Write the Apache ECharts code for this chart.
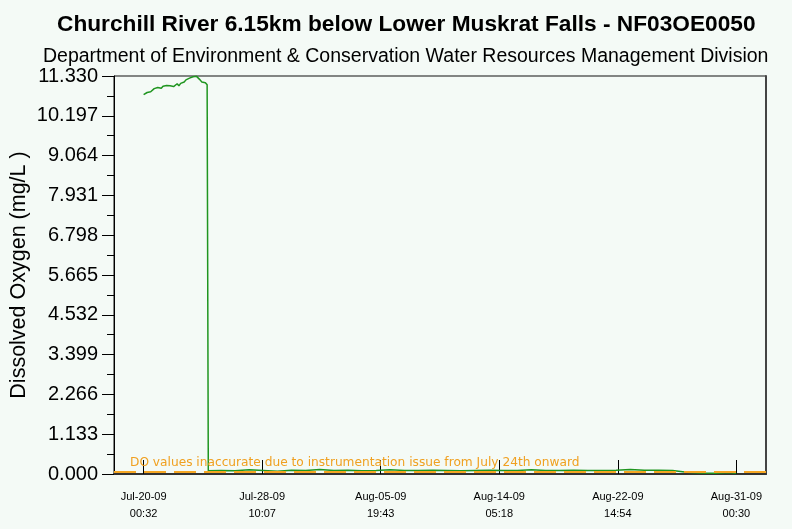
<!DOCTYPE html>
<html>
<head>
<meta charset="utf-8">
<script src="https://cdn.jsdelivr.net/npm/echarts@6/dist/echarts.min.js"></script>
<style>
html,body{margin:0;padding:0;background:#f4faf6;}
#c{width:792px;height:529px;}
</style>
</head>
<body>
<div id="c"></div>
<script>
// ---- data ----
var titleText = 'Churchill River 6.15km below Lower Muskrat Falls - NF03OE0050';
var subtitleText = 'Department of Environment & Conservation Water Resources Management Division';
var yAxisName = 'Dissolved Oxygen (mg/L )';
var noteText = 'DO values inaccurate due to instrumentation issue from July 24th onward';

var yMin = 0, yMax = 11.33, yStep = 1.133;
var noteLevel = 0.05;

var xTickTimes = ['2009-07-20 00:32','2009-07-28 10:07','2009-08-05 19:43','2009-08-14 05:18','2009-08-22 14:54','2009-08-31 00:30'];
var xTickLabels = ['Jul-20-09\n00:32','Jul-28-09\n10:07','Aug-05-09\n19:43','Aug-14-09\n05:18','Aug-22-09\n14:54','Aug-31-09\n00:30'];

// high readings, every 3 hours from Jul-20 00:30
var highTimes = ['2009-07-20 00:30','2009-07-20 03:30','2009-07-20 06:30','2009-07-20 09:30','2009-07-20 12:30','2009-07-20 15:30','2009-07-20 18:30','2009-07-20 21:30',
 '2009-07-21 00:30','2009-07-21 03:30','2009-07-21 06:30','2009-07-21 09:30','2009-07-21 12:30','2009-07-21 15:30','2009-07-21 18:30','2009-07-21 21:30',
 '2009-07-22 00:30','2009-07-22 03:30','2009-07-22 06:30','2009-07-22 09:30','2009-07-22 12:30','2009-07-22 15:30','2009-07-22 18:30','2009-07-22 21:30',
 '2009-07-23 00:30','2009-07-23 03:30','2009-07-23 06:30','2009-07-23 09:30','2009-07-23 12:30','2009-07-23 15:30','2009-07-23 18:30','2009-07-23 21:30',
 '2009-07-24 00:30','2009-07-24 03:30','2009-07-24 06:30','2009-07-24 09:30','2009-07-24 12:30'];
var highValues = [10.80,10.82,10.86,10.90,10.88,10.93,10.97,10.94,11.00,11.03,10.98,11.04,11.00,11.06,11.01,11.05,11.09,11.03,11.07,11.11,11.05,11.12,11.09,11.16,11.22,11.19,11.27,11.25,11.31,11.33,11.32,11.29,11.22,11.16,11.12,11.14,11.08];

// low readings after the drop, daily
var lowTimes = ['2009-07-24 14:30','2009-07-25 12:00','2009-07-26 12:00','2009-07-27 12:00','2009-07-28 12:00','2009-07-29 12:00','2009-07-30 12:00','2009-07-31 12:00',
 '2009-08-01 12:00','2009-08-02 12:00','2009-08-03 12:00','2009-08-04 12:00','2009-08-05 12:00','2009-08-06 12:00','2009-08-07 12:00','2009-08-08 12:00',
 '2009-08-09 12:00','2009-08-10 12:00','2009-08-11 12:00','2009-08-12 12:00','2009-08-13 12:00','2009-08-14 12:00','2009-08-15 12:00','2009-08-16 12:00',
 '2009-08-17 12:00','2009-08-18 12:00','2009-08-19 12:00','2009-08-20 12:00','2009-08-21 12:00','2009-08-22 12:00','2009-08-23 12:00','2009-08-24 12:00',
 '2009-08-25 12:00','2009-08-26 12:00','2009-08-27 12:00','2009-08-28 12:00','2009-08-29 12:00','2009-08-30 12:00','2009-08-31 00:30'];
var lowValues = [0.09,0.10,0.09,0.12,0.10,0.08,0.11,0.10,0.13,0.10,0.11,0.09,0.10,0.12,0.10,0.10,0.11,0.10,0.09,0.10,0.11,0.10,0.10,0.12,0.10,0.10,0.11,0.10,0.10,0.11,0.13,0.11,0.11,0.10,0.05,0.03,0.02,0.04,0.02];

// ---- build ----
function ts(s){ return new Date(s.replace(' ','T')+':00Z').getTime(); }
var tickTs = xTickTimes.map(ts);
var tickStep = (tickTs[tickTs.length-1]-tickTs[0])/(tickTs.length-1);
var xMin = tickTs[0]-0.25*tickStep, xMax = tickTs[tickTs.length-1]+0.25*tickStep;
var seriesData = [];
highTimes.forEach(function(t,i){ seriesData.push([ts(t), highValues[i]]); });
lowTimes.forEach(function(t,i){ seriesData.push([ts(t), lowValues[i]]); });
function tickLabel(v){
  for(var k=0;k<tickTs.length;k++){ if(Math.abs(tickTs[k]-v)<60000) return xTickLabels[k]; }
  return '';
}

var chart = echarts.init(document.getElementById('c'), null, {renderer:'canvas'});
var font = 'Liberation Sans, Arial, sans-serif';
chart.setOption({
  backgroundColor:'#f4faf6',
  animation:false,
  title:[
    {text:titleText, left:52, top:8, textStyle:{fontFamily:font, fontSize:22.7, fontWeight:'bold', color:'#000'}},
    {text:subtitleText, left:38, top:42, textStyle:{fontFamily:font, fontSize:19.5, fontWeight:'normal', color:'#000'}}
  ],
  grid:{left:114, top:76, right:26, bottom:55, show:true, borderColor:'#111', borderWidth:1, backgroundColor:'transparent', containLabel:false, outerBoundsMode:'none'},
  xAxis:{
    type:'value', min:xMin, max:xMax,
    axisLine:{show:true, lineStyle:{color:'#333', width:2}},
    axisTick:{show:true, inside:true, length:14, customValues:tickTs, lineStyle:{color:'#000', width:1}},
    axisLabel:{customValues:tickTs, margin:14, fontFamily:font, fontSize:11, lineHeight:17, color:'#000',
      formatter:function(v){ return tickLabel(v); }},
    splitLine:{show:false}
  },
  yAxis:[{
    type:'value', min:yMin, max:yMax, interval:yStep,
    name:yAxisName, nameLocation:'middle', nameGap:84, nameRotate:90, nameMoveOverlap:false,
    nameTextStyle:{fontFamily:font, fontSize:21.5, color:'#000'},
    axisLine:{show:true, lineStyle:{color:'#000', width:1}},
    axisTick:{show:true, inside:false, length:12, lineStyle:{color:'#000'}},
    minorTick:{show:true, splitNumber:2, length:7, lineStyle:{color:'#000'}},
    axisLabel:{margin:16, fontFamily:font, fontSize:20, color:'#000', formatter:function(v){return v.toFixed(3);}},
    splitLine:{show:false}
  },{
    type:'value', min:yMin, max:yMax, position:'right',
    axisLine:{show:true, lineStyle:{color:'#444', width:2}},
    axisTick:{show:false}, axisLabel:{show:false}, splitLine:{show:false}
  }],
  series:[{
    type:'line', data:seriesData, showSymbol:false, symbol:'none',
    lineStyle:{color:'#1f951f', width:1.5},
    markLine:{
      silent:true, symbol:'none',
      lineStyle:{color:'#f5a623', width:2, type:[22,8]},
      label:{show:true, position:'insideStartTop', formatter:noteText, distance:[16,3],
        fontFamily:'DejaVu Sans, sans-serif', fontSize:12.2, color:'#f0a020'},
      data:[{yAxis:noteLevel}]
    }
  }]
});
</script>
</body>
</html>
